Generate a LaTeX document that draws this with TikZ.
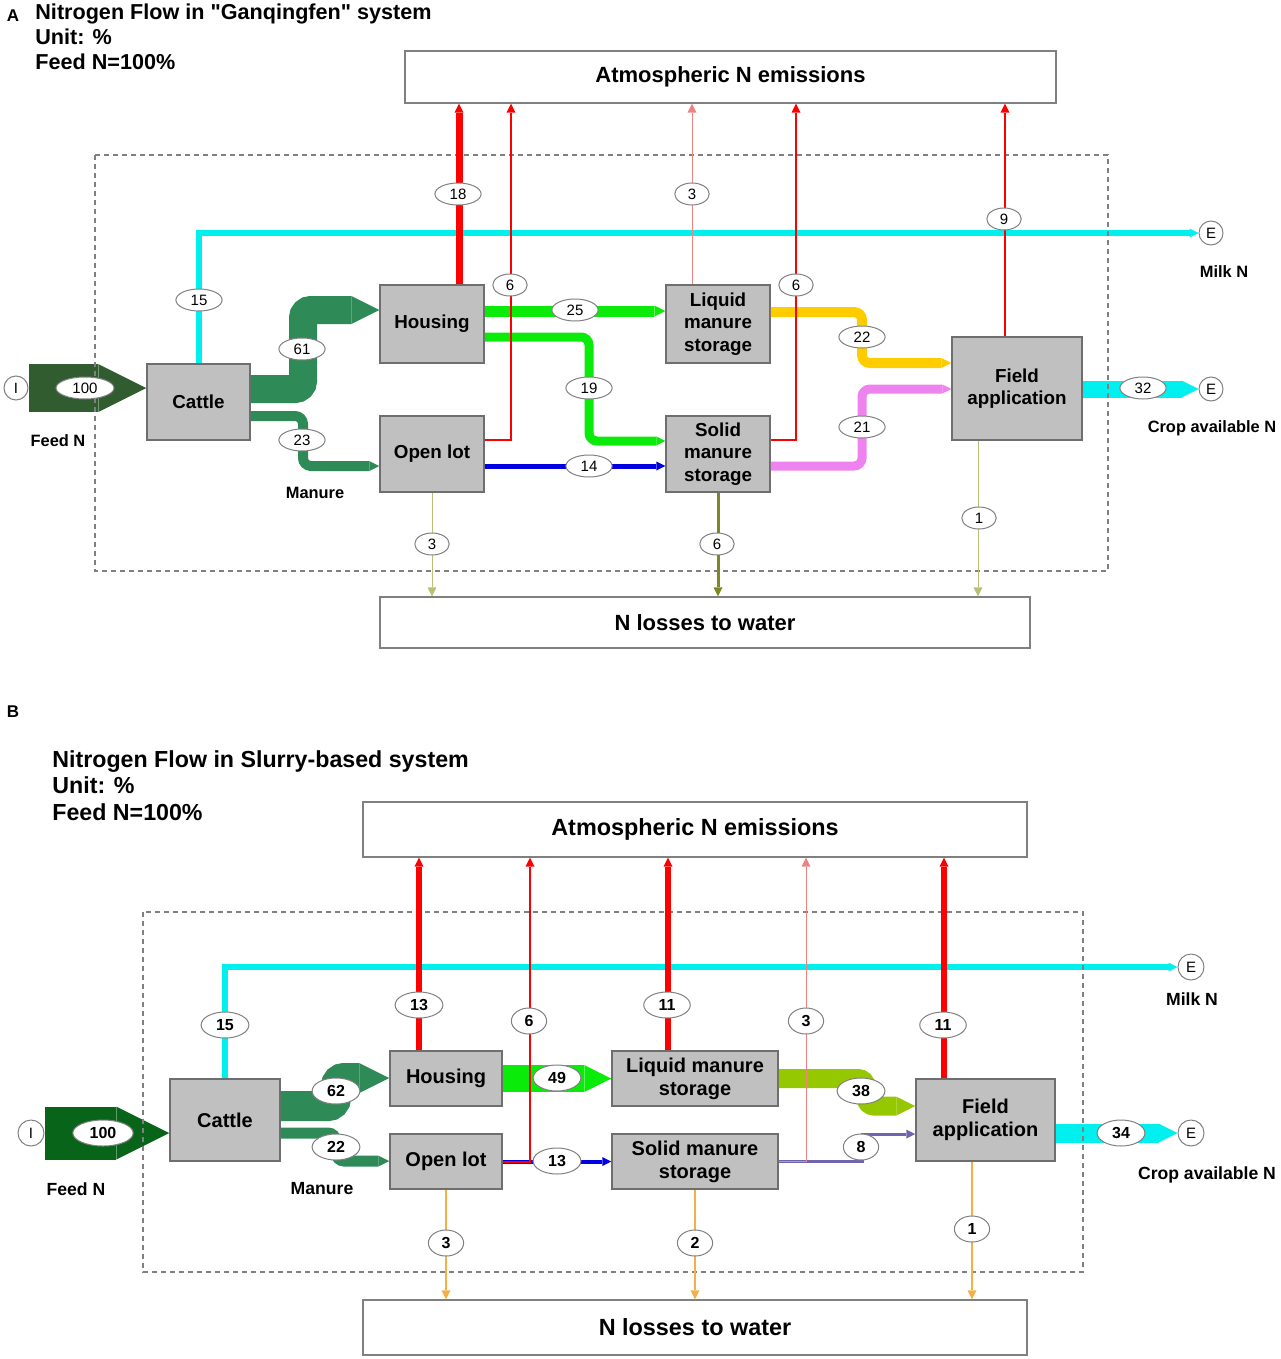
\documentclass[tikz,border=0pt]{standalone}
\usepackage{fontspec}
\setmainfont{Liberation Sans}[Ligatures=TeXOff]
\usetikzlibrary{arrows.meta, shapes.geometric}

\definecolor{boxfill}{RGB}{192,192,192}
\definecolor{boxline}{RGB}{110,110,110}
\definecolor{feedA}{RGB}{48,92,48}
\definecolor{feedB}{RGB}{8,100,24}
\definecolor{manure}{RGB}{46,139,87}
\definecolor{limeflow}{RGB}{10,235,10}
\definecolor{blueflow}{RGB}{0,0,225}
\definecolor{goldflow}{RGB}{255,204,0}
\definecolor{violetflow}{RGB}{238,130,238}
\definecolor{cyanflow}{RGB}{0,240,240}
\definecolor{redflow}{RGB}{255,0,0}
\definecolor{lightred}{RGB}{240,130,130}
\definecolor{olivelight}{RGB}{185,190,120}
\definecolor{olivedark}{RGB}{125,135,35}
\definecolor{ygflow}{RGB}{150,200,0}
\definecolor{slateflow}{RGB}{110,100,175}
\definecolor{orangeflow}{RGB}{245,175,70}

\begin{document}
\begin{tikzpicture}[x=0.5pt, y=-0.5pt,
    proc/.style={draw=boxline, fill=boxfill, line width=0.75pt, align=center, inner sep=0pt},
    procA/.style={proc, font=\fontsize{9.4}{11.2}\selectfont\bfseries},
    procB/.style={proc, font=\fontsize{10}{11.5}\selectfont\bfseries},
    sink/.style={draw=gray, fill=white, line width=0.6pt, inner sep=0pt},
    numA/.style={ellipse, draw=gray, fill=white, line width=0.5pt, inner xsep=4pt, inner ysep=0.3pt,
      minimum width=16pt, minimum height=11pt, font=\fontsize{7.5}{8}\selectfont},
    numB/.style={numA, minimum width=15pt, minimum height=13pt, font=\fontsize{8}{9}\selectfont\bfseries},
    term/.style={circle, draw=gray, fill=white, line width=0.5pt, minimum size=12pt, inner sep=0pt,
      font=\fontsize{7.5}{8}\selectfont},
    sidelbl/.style={font=\fontsize{8.2}{9}\selectfont\bfseries},
    band/.style={line width=#1, rounded corners=4pt, -{Triangle[length=#1, width=#1, line width=0pt]}},
    pipe/.style={line width=#1, -{Triangle[length=4.5pt, width=4.5pt, line width=0pt]}},
    boundary/.style={draw=gray, dash pattern=on 2.5pt off 2pt, line width=0.6pt}]
  \useasboundingbox (0,0) rectangle (1280,1359);

  % ---------- panel A ----------
  \node[font=\fontsize{8.5}{9}\selectfont\bfseries] (tagA) at (13,16) {A};
  \node[anchor=north west, align=left, inner sep=0pt, font=\fontsize{10.8}{12.5}\selectfont\bfseries]
    (titleA) at (35,3) {Nitrogen Flow in "Ganqingfen" system\\Unit: \%\\Feed N=100\%};

  \node[sink, minimum width=325.5pt, minimum height=26pt, font=\fontsize{11}{12}\selectfont\bfseries]
    (atmA) at (730.5,77) {Atmospheric N emissions};
  \node[sink, minimum width=325pt, minimum height=25.5pt, font=\fontsize{11}{12}\selectfont\bfseries]
    (lossA) at (705,622.5) {N losses to water};

  \node[procA, minimum width=51.5pt, minimum height=38pt] (cattleA) at (198.5,402) {Cattle};
  \node[procA, minimum width=52pt, minimum height=39pt] (housA) at (432,324) {Housing};
  \node[procA, minimum width=52pt, minimum height=38pt] (openA) at (432,454) {Open lot};
  \node[procA, minimum width=52pt, minimum height=39pt] (liqA) at (718,324) {Liquid\\manure\\storage};
  \node[procA, minimum width=52pt, minimum height=38pt] (solA) at (718,454) {Solid\\manure\\storage};
  \node[procA, minimum width=65pt, minimum height=51.5pt] (fieldA) at (1017,388.5) {Field\\application};

  \node[term] (inA) at (16,388) {I};
  \node[term] (milkA) at (1211,233) {E};
  \node[term] (cropA) at (1211,389) {E};

  \draw[band=24pt, draw=feedA] (inA.east) -- (cattleA.west |- inA);
  \draw[band=14pt, draw=manure] (cattleA.east |- 0,389) -- (303,389) -- (303,310) -- (housA.west |- 0,310);
  \draw[band=5pt, draw=manure] (cattleA.east |- 0,416) -- (303,416) -- (303,466) -- (openA.west |- 0,466);
  \draw[pipe=3pt, draw=cyanflow] (cattleA.north) -- (198.5,233) -- (milkA.west);
  \draw[band=5.5pt, draw=limeflow] (housA.east |- 0,311) -- (liqA.west |- 0,311);
  \draw[band=4.5pt, draw=limeflow] (housA.east |- 0,337) -- (589,337) -- (589,441) -- (solA.west |- 0,441);
  \draw[pipe=2.5pt, draw=blueflow] (openA.east |- 0,466) -- (solA.west |- 0,466);
  \draw[band=5pt, draw=goldflow] (liqA.east |- 0,312) -- (862,312) -- (862,363) -- (fieldA.west |- 0,363);
  \draw[band=4.5pt, draw=violetflow] (solA.east |- 0,466) -- (862,466) -- (862,389) -- (fieldA.west |- 0,389);
  \draw[band=8.5pt, draw=cyanflow] (fieldA.east |- 0,389) -- (cropA.west);

  \draw[boundary] (95,155) rectangle (1108,571);

  % emissions and losses
  \draw[pipe=3.5pt, draw=redflow] (housA.north -| 459,0) -- (atmA.south -| 459,0);
  \draw[pipe=1pt, draw=redflow] (openA.east |- 0,440) -- (511,440) -- (atmA.south -| 511,0);
  \draw[pipe=0.5pt, draw=lightred] (liqA.north -| 692,0) -- (atmA.south -| 692,0);
  \draw[pipe=1pt, draw=redflow] (solA.east |- 0,440) -- (796,440) -- (atmA.south -| 796,0);
  \draw[pipe=1.3pt, draw=redflow] (fieldA.north -| 1005,0) -- (atmA.south -| 1005,0);
  \draw[pipe=0.5pt, draw=olivelight] (openA.south) -- (lossA.north -| openA.south);
  \draw[pipe=1.5pt, draw=olivedark] (solA.south) -- (lossA.north -| solA.south);
  \draw[pipe=0.5pt, draw=olivelight] (fieldA.south -| 978,0) -- (lossA.north -| 978,0);

  \node[numA] (nA100) at (85,388) {100};
  \node[numA] (nA61) at (302,349) {61};
  \node[numA] (nA23) at (302,440) {23};
  \node[numA] (nA15) at (199,300) {15};
  \node[numA] (nA18) at (458,194) {18};
  \node[numA] (nA6a) at (510,285) {6};
  \node[numA] (nA3a) at (692,194) {3};
  \node[numA] (nA6b) at (796,285) {6};
  \node[numA] (nA9) at (1004,219) {9};
  \node[numA] (nA25) at (575,310) {25};
  \node[numA] (nA19) at (589,388) {19};
  \node[numA] (nA14) at (589,466) {14};
  \node[numA] (nA22) at (862,337) {22};
  \node[numA] (nA21) at (862,427) {21};
  \node[numA] (nA32) at (1143,388) {32};
  \node[numA] (nA3b) at (432,544) {3};
  \node[numA] (nA6c) at (717,544) {6};
  \node[numA] (nA1) at (979,518) {1};

  \node[sidelbl] (feedlblA) at (58,441) {Feed N};
  \node[sidelbl] (manlblA) at (315,493) {Manure};
  \node[sidelbl] (milklblA) at (1224,272) {Milk N};
  \node[sidelbl] (croplblA) at (1212,428) {Crop available N};

  % ---------- panel B ----------
  \node[font=\fontsize{8.5}{9}\selectfont\bfseries] (tagB) at (13,712) {B};
  \node[anchor=north west, align=left, inner sep=0pt, font=\fontsize{11.6}{13.25}\selectfont\bfseries]
    (titleB) at (52,750) {Nitrogen Flow in Slurry-based system\\Unit: \%\\Feed N=100\%};

  \node[sink, minimum width=332pt, minimum height=27.5pt, font=\fontsize{11.7}{13}\selectfont\bfseries]
    (atmB) at (695,829.5) {Atmospheric N emissions};
  \node[sink, minimum width=332pt, minimum height=27.5pt, font=\fontsize{11.7}{13}\selectfont\bfseries]
    (lossB) at (695,1327.5) {N losses to water};

  \node[procB, minimum width=55pt, minimum height=41pt] (cattleB) at (225,1120) {Cattle};
  \node[procB, minimum width=56pt, minimum height=27.5pt] (housB) at (446,1078.5) {Housing};
  \node[procB, minimum width=56pt, minimum height=27.5pt] (openB) at (446,1161.5) {Open lot};
  \node[procB, minimum width=83pt, minimum height=27.5pt] (liqB) at (695,1078.5) {Liquid manure\\storage};
  \node[procB, minimum width=83pt, minimum height=27.5pt] (solB) at (695,1161.5) {Solid manure\\storage};
  \node[procB, minimum width=69.5pt, minimum height=41pt] (fieldB) at (985.5,1120) {Field\\application};

  \node[term, minimum size=13pt] (inB) at (31,1133) {I};
  \node[term, minimum size=13pt] (milkB) at (1191,967) {E};
  \node[term, minimum size=13pt] (cropB) at (1191,1133) {E};

  \draw[band=26.5pt, draw=feedB] (inB.east) -- (cattleB.west |- inB);
  \draw[band=15pt, draw=manure] (cattleB.east |- 0,1106) -- (336,1106) -- (336,1078) -- (housB.west |- 0,1078);
  \draw[band=5.5pt, draw=manure] (cattleB.east |- 0,1133) -- (336,1133) -- (336,1161) -- (openB.west |- 0,1161);
  \draw[pipe=3pt, draw=cyanflow] (cattleB.north) -- (225,967) -- (milkB.west);
  \draw[band=13.5pt, draw=limeflow] (housB.east) -- (liqB.west);
  \draw[pipe=2pt, draw=blueflow] (openB.east) -- (solB.west);
  \draw[band=9.5pt, draw=ygflow] (liqB.east) -- (866,1078.5) -- (866,1106) -- (fieldB.west |- 0,1106);
  \draw[pipe=1.5pt, draw=slateflow] (solB.east) -- (862,1161.5) -- (862,1134) -- (fieldB.west |- 0,1134);
  \draw[band=9.5pt, draw=cyanflow] (fieldB.east |- 0,1133) -- (cropB.west);

  \draw[boundary] (143,912) rectangle (1083,1272);

  % emissions and losses
  \draw[pipe=3pt, draw=redflow] (housB.north -| 419,0) -- (atmB.south -| 419,0);
  \draw[pipe=1pt, draw=redflow] (openB.east) -- (530,1161.5) -- (atmB.south -| 530,0);
  \draw[pipe=3pt, draw=redflow] (liqB.north -| 668,0) -- (atmB.south -| 668,0);
  \draw[pipe=0.5pt, draw=lightred] (solB.east) -- (806,1161.5) -- (atmB.south -| 806,0);
  \draw[pipe=3pt, draw=redflow] (fieldB.north -| 944,0) -- (atmB.south -| 944,0);
  \draw[pipe=0.6pt, draw=orangeflow] (openB.south) -- (lossB.north -| openB.south);
  \draw[pipe=0.6pt, draw=orangeflow] (solB.south) -- (lossB.north -| solB.south);
  \draw[pipe=0.6pt, draw=orangeflow] (fieldB.south -| 972,0) -- (lossB.north -| 972,0);

  \node[numB] (nB100) at (103,1133) {100};
  \node[numB] (nB62) at (336,1091) {62};
  \node[numB] (nB22) at (336,1147) {22};
  \node[numB] (nB15) at (225,1025) {15};
  \node[numB] (nB13a) at (419,1005) {13};
  \node[numB] (nB6) at (529,1021) {6};
  \node[numB] (nB11a) at (667,1005) {11};
  \node[numB] (nB3a) at (806,1021) {3};
  \node[numB] (nB11b) at (943,1025) {11};
  \node[numB] (nB49) at (557,1078) {49};
  \node[numB] (nB13b) at (557,1161) {13};
  \node[numB] (nB38) at (861,1091) {38};
  \node[numB] (nB8) at (861,1147) {8};
  \node[numB] (nB34) at (1121,1133) {34};
  \node[numB] (nB3b) at (446,1243) {3};
  \node[numB] (nB2) at (695,1243) {2};
  \node[numB] (nB1) at (972,1229) {1};

  \node[sidelbl, font=\fontsize{8.8}{9}\selectfont\bfseries] (feedlblB) at (76,1189) {Feed N};
  \node[sidelbl, font=\fontsize{8.8}{9}\selectfont\bfseries] (manlblB) at (322,1189) {Manure};
  \node[sidelbl, font=\fontsize{8.8}{9}\selectfont\bfseries] (milklblB) at (1192,999) {Milk N};
  \node[sidelbl, font=\fontsize{8.8}{9}\selectfont\bfseries] (croplblB) at (1207,1175) {Crop available N};
\end{tikzpicture}
\end{document}
